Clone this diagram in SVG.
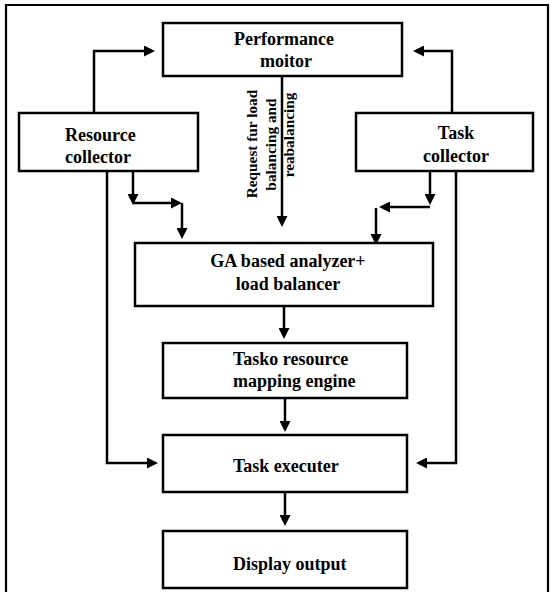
<svg xmlns="http://www.w3.org/2000/svg" width="550" height="592" viewBox="0 0 550 592">
<style>
.box{fill:#fff;stroke:#000;stroke-width:2.5}
.t{font-family:"Liberation Serif","Times New Roman",serif;font-weight:bold;font-size:18px;fill:#000}
.v{font-family:"Liberation Serif","Times New Roman",serif;font-weight:bold;font-size:15.3px;fill:#000}
.c{fill:none;stroke:#000;stroke-width:2.5}
.frame{fill:none;stroke:#000;stroke-width:2.2}
</style>
<defs>
<marker id="ah" viewBox="0 0 11 11" refX="7" refY="5.5" markerWidth="11" markerHeight="11" markerUnits="userSpaceOnUse" orient="auto">
<path d="M0,0 L11,5.5 L0,11 z" fill="#000"/>
</marker>
</defs>
<rect width="550" height="592" fill="#fff"/>
<path class="frame" d="M6,592 V5 H548 V592"/>
<g id="connectors">
<path class="c" d="M94,113 V51 H151" marker-end="url(#ah)"/>
<path class="c" d="M452,113 V51 H417" marker-end="url(#ah)"/>
<path class="c" d="M282,76 V223" marker-end="url(#ah)"/>
<path class="c" d="M133,171 V201" marker-end="url(#ah)"/>
<path class="c" d="M133,203 H178" marker-end="url(#ah)"/>
<path class="c" d="M182,203 V235" marker-end="url(#ah)"/>
<path class="c" d="M430,171 V201" marker-end="url(#ah)"/>
<path class="c" d="M430,207 H383" marker-end="url(#ah)"/>
<path class="c" d="M376,208 V241" marker-end="url(#ah)"/>
<path class="c" d="M284,306 V335" marker-end="url(#ah)"/>
<path class="c" d="M285,398 V428" marker-end="url(#ah)"/>
<path class="c" d="M285,492 V522" marker-end="url(#ah)"/>
<path class="c" d="M107,171 V463 H154" marker-end="url(#ah)"/>
<path class="c" d="M456,171 V463 H420" marker-end="url(#ah)"/>
<text class="v" text-anchor="middle" transform="translate(257,144) rotate(-90)">Request fur load</text>
<text class="v" text-anchor="middle" transform="translate(275.5,144.5) rotate(-90)">balancing and</text>
<text class="v" text-anchor="middle" transform="translate(294,135) rotate(-90)">reabalancing</text>
</g>
<g id="performance-monitor">
<rect class="box" x="163" y="23" width="239" height="53"/>
<text class="t" x="284" y="45" text-anchor="middle">Performance</text>
<text class="t" x="286" y="67" text-anchor="middle">moitor</text>
</g>
<g id="resource-collector">
<rect class="box" x="19" y="113" width="179" height="58"/>
<text class="t" x="65" y="141">Resource</text>
<text class="t" x="65" y="163">collector</text>
</g>
<g id="task-collector">
<rect class="box" x="356" y="113" width="177" height="58"/>
<text class="t" x="456" y="139" text-anchor="middle">Task</text>
<text class="t" x="456" y="162" text-anchor="middle">collector</text>
</g>
<g id="ga-analyzer">
<rect class="box" x="135" y="243" width="298" height="63"/>
<text class="t" x="288" y="267" text-anchor="middle">GA based analyzer+</text>
<text class="t" x="288" y="290" text-anchor="middle">load balancer</text>
</g>
<g id="mapping-engine">
<rect class="box" x="163" y="343" width="244" height="55"/>
<text class="t" x="233" y="365">Tasko resource</text>
<text class="t" x="233" y="387">mapping engine</text>
</g>
<g id="task-executer">
<rect class="box" x="163" y="435" width="244" height="57"/>
<text class="t" x="233" y="472">Task executer</text>
</g>
<g id="display-output">
<rect class="box" x="163" y="531" width="244" height="57"/>
<text class="t" x="233" y="570">Display output</text>
</g>
</svg>
